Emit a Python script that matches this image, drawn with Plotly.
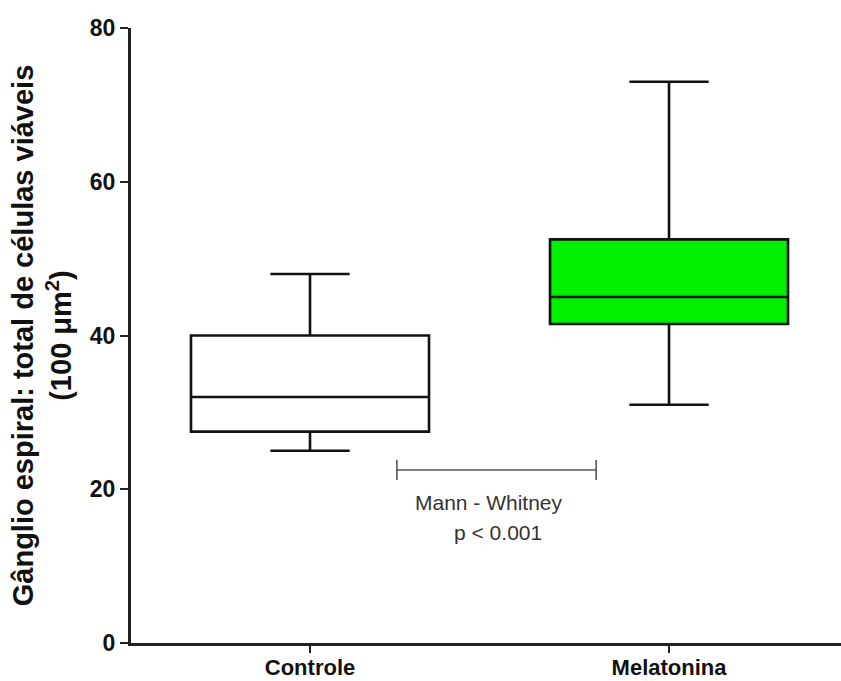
import plotly.graph_objects as go

# Spiral ganglion viable cell counts per group (box summaries)
groups = ["Controle", "Melatonina"]
lower_whisker = [25.0, 31.0]
q1_values = [27.5, 41.5]
medians = [32.0, 45.0]
q3_values = [40.0, 52.5]
upper_whisker = [48.0, 73.0]
fill_colors = ["#ffffff", "#00f000"]

y_ticks = [0, 20, 40, 60, 80]

# Statistical comparison bracket between the two groups
bracket_x = [0.242, 0.797]
bracket_y = 22.5
bracket_tick = 1.3
test_name = "Mann - Whitney"
test_p = "p < 0.001"

FONT = "Liberation Sans, Arial, sans-serif"

fig = go.Figure()

for i, g in enumerate(groups):
    fig.add_trace(go.Box(
        x=[i],
        q1=[q1_values[i]],
        median=[medians[i]],
        q3=[q3_values[i]],
        lowerfence=[lower_whisker[i]],
        upperfence=[upper_whisker[i]],
        name=g,
        width=0.663,
        whiskerwidth=0.333,
        fillcolor=fill_colors[i],
        line=dict(color="#111111", width=2.6),
        boxpoints=False,
        hoverinfo="skip",
        showlegend=False,
    ))

# comparison bracket
bx0, bx1 = bracket_x
fig.add_trace(go.Scatter(
    x=[bx0, bx0, None, bx0, bx1, None, bx1, bx1],
    y=[bracket_y - bracket_tick, bracket_y + bracket_tick, None,
       bracket_y, bracket_y, None,
       bracket_y - bracket_tick, bracket_y + bracket_tick],
    mode="lines",
    line=dict(color="#555555", width=1.6),
    hoverinfo="skip",
    showlegend=False,
))

fig.add_annotation(x=0.4986, y=18.3, text=test_name, showarrow=False,
                   font=dict(family=FONT, size=21, color="#333333"),
                   xanchor="center", yanchor="middle")
fig.add_annotation(x=0.524, y=14.4, text=test_p, showarrow=False,
                   font=dict(family=FONT, size=21, color="#333333"),
                   xanchor="center", yanchor="middle")

fig.update_layout(
    width=841, height=681,
    margin=dict(l=131, r=0, t=28, b=38),
    paper_bgcolor="white",
    plot_bgcolor="white",
    font=dict(family=FONT, color="#111111"),
)

fig.update_xaxes(
    range=[-0.4986, 1.479],
    tickmode="array",
    tickvals=list(range(len(groups))),
    ticktext=[f"<b>{g}</b>" for g in groups],
    tickfont=dict(family=FONT, size=22, color="#111111"),
    ticks="outside", ticklen=7, tickwidth=2, tickcolor="#222222",
    ticklabelstandoff=-4,
    showline=True, linecolor="#222222", linewidth=3,
    showgrid=False, zeroline=False,
    automargin=False,
)

fig.update_yaxes(
    range=[0, 80],
    tickmode="array",
    tickvals=y_ticks,
    ticktext=[f"<b>{v}</b>" for v in y_ticks],
    tickfont=dict(family=FONT, size=23, color="#111111"),
    ticks="outside", ticklen=8, tickwidth=2, tickcolor="#222222",
    showline=True, linecolor="#222222", linewidth=3,
    showgrid=False, zeroline=False,
    automargin=False,
    title=dict(
        text="<b>Gânglio espiral: total de células viáveis</b><br><b>(100 μm<sup>2</sup>)</b>",
        font=dict(family=FONT, size=29, color="#111111"),
        standoff=10,
    ),
)

fig.write_html("out.html")
